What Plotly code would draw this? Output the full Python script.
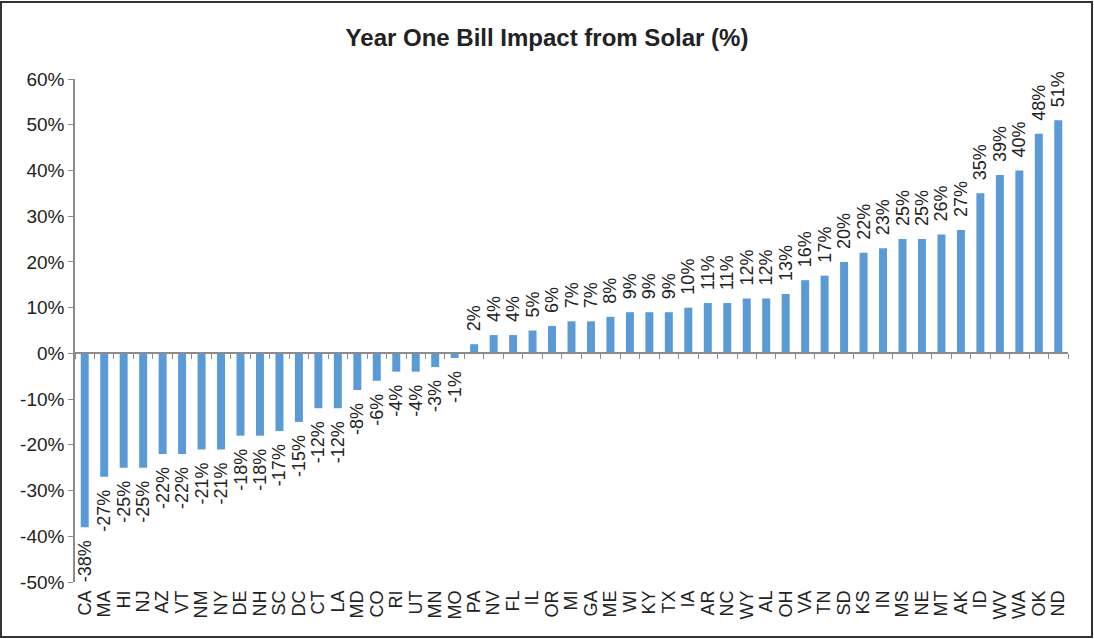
import plotly.graph_objects as go

states = ["CA", "MA", "HI", "NJ", "AZ", "VT", "NM", "NY", "DE", "NH", "SC", "DC", "CT", "LA",
          "MD", "CO", "RI", "UT", "MN", "MO", "PA", "NV", "FL", "IL", "OR", "MI", "GA", "ME",
          "WI", "KY", "TX", "IA", "AR", "NC", "WY", "AL", "OH", "VA", "TN", "SD", "KS", "IN",
          "MS", "NE", "MT", "AK", "ID", "WV", "WA", "OK", "ND"]
impact = [-38, -27, -25, -25, -22, -22, -21, -21, -18, -18, -17, -15, -12, -12,
          -8, -6, -4, -4, -3, -1, 2, 4, 4, 5, 6, 7, 7, 8,
          9, 9, 9, 10, 11, 11, 12, 12, 13, 16, 17, 20, 22, 23,
          25, 25, 26, 27, 35, 39, 40, 48, 51]
y_ticks = [-50, -40, -30, -20, -10, 0, 10, 20, 30, 40, 50, 60]
y_labels = [f"{v}%" for v in y_ticks]
title = "Year One Bill Impact from Solar (%)"

FONT = "Liberation Sans, Arial, Helvetica, sans-serif"
BAR = "#5B9BD5"
AX = "#8C8C8C"

W, H = 1094, 639
L, R, T, B = 75, 26, 79, 57
ymin, ymax = -50, 60

# small gap between bar end and its rotated label (non-breaking spaces on the bar side)
PAD = "\u00a0\u00a0"
labels = [(PAD + f"{v}%") if v >= 0 else (f"{v}%" + PAD) for v in impact]

fig = go.Figure()
fig.add_trace(go.Bar(
    x=states, y=impact,
    marker=dict(color=BAR, line=dict(width=0)),
    text=labels,
    textposition="outside",
    textangle=-90,
    textfont=dict(family=FONT, size=18, color="#222222"),
    constraintext="none",
    cliponaxis=False,
    hoverinfo="x+y",
))
# invisible trace to carry the zero-line category axis
fig.add_trace(go.Scatter(
    x=states, y=impact, xaxis="x2", yaxis="y",
    mode="markers", marker=dict(opacity=0), hoverinfo="skip", showlegend=False,
))

plot_w = W - L - R
plot_h = H - T - B

fig.update_layout(
    width=W, height=H,
    margin=dict(l=L, r=R, t=T, b=B, autoexpand=False),
    paper_bgcolor="white", plot_bgcolor="white",
    showlegend=False,
    bargap=0.59,
    title=dict(text=f"<b>{title}</b>", x=0.5, xanchor="center", xref="container",
               y=1 - 38 / H, yanchor="middle",
               font=dict(family=FONT, size=24, color="#222222")),
    xaxis=dict(
        type="category", range=[-0.5, len(states) - 0.5],
        tickmode="array", tickvals=states, ticktext=states,
        showline=False, showgrid=False, zeroline=False, ticks="",
        tickangle=-90, tickfont=dict(family=FONT, size=18, color="#222222"),
        ticklabelstandoff=4, automargin=False,
    ),
    xaxis2=dict(
        type="category", overlaying="x", matches="x", anchor="free",
        position=(0 - ymin) / (ymax - ymin),
        showline=True, linecolor=AX, linewidth=1.5,
        ticks="outside", ticklen=5, tickcolor=AX, tickwidth=1,
        tickson="boundaries", showticklabels=False, showgrid=False,
        automargin=False,
    ),
    yaxis=dict(
        range=[ymin, ymax], tickvals=y_ticks, ticktext=y_labels,
        showline=True, linecolor=AX, linewidth=1.5,
        ticks="outside", ticklen=5, tickcolor=AX, tickwidth=1,
        showgrid=False, zeroline=False, automargin=False,
        tickfont=dict(family=FONT, size=19, color="#222222"),
    ),
    shapes=[dict(
        type="rect", xref="paper", yref="paper",
        x0=(1 - L) / plot_w, x1=(W - 2 - L) / plot_w,
        y0=(H - B - 637) / plot_h, y1=(H - B - 2) / plot_h,
        line=dict(color="#333333", width=2), fillcolor="rgba(0,0,0,0)",
        layer="below",
    )],
)

fig.write_html(
    "out.html",
    config={"displayModeBar": False},
    post_script="document.body.style.margin='0';document.body.style.overflow='hidden';",
)
